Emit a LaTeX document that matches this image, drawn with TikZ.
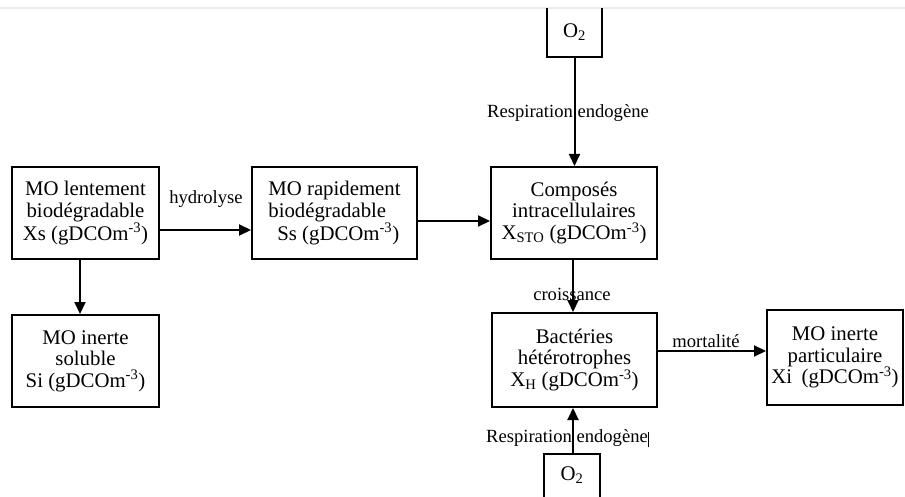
\documentclass[tikz,border=0pt]{standalone}
\usepackage{fontspec}
\setmainfont{Liberation Serif}
\usetikzlibrary{arrows.meta}
\definecolor{edgegray}{HTML}{EBEBEB}
\newcommand{\unitdco}{(gDCOm\textsuperscript{-3})}
\begin{document}
\begin{tikzpicture}[x=1pt,y=-1pt,
  box/.style={draw, line width=2pt, inner sep=0pt, align=center,
    font=\fontsize{20.8}{21.6}\selectfont},
  opbox/.style={inner sep=0pt, font=\fontsize{20.8}{21.6}\selectfont},
  lbl/.style={inner sep=0pt, font=\fontsize{18.6}{20}\selectfont},
  frame/.style={line width=2pt},
  flow/.style={line width=2pt, -{Triangle[length=12pt,width=11pt]}}]
\useasboundingbox (0,0) rectangle (905,497);
\fill[white] (0,0) rectangle (905,497);

% page edge at the top
\draw[edgegray, line width=1.5pt] (0,8) -- (905,8);

% boxes
\node[box, minimum width=147pt, minimum height=92pt] (xs) at (85.5,213)
  {MO lentement\\biodégradable\\Xs \unitdco};
\node[box, minimum width=165pt, minimum height=92pt, align=left] (ss) at (334.5,213)
  {MO rapidement\\biodégradable\\\hspace*{9pt}Ss \unitdco};
\node[box, minimum width=166pt, minimum height=92pt] (xsto) at (574,213)
  {Composés\\intracellulaires\\X\textsubscript{STO} \unitdco};
\node[box, minimum width=147pt, minimum height=92pt] (si) at (85.5,361)
  {MO inerte\\soluble\\Si \unitdco};
\node[box, minimum width=165pt, minimum height=94pt] (xh) at (574.5,360)
  {Bactéries\\hétérotrophes\\X\textsubscript{H} \unitdco};
\node[box, minimum width=136pt, minimum height=95pt] (xi) at (835,357.5)
  {MO inerte\\particulaire\\Xi\hspace{0.45em}\unitdco};

% oxygen supplies (open on the page edge)
\node[opbox, minimum width=55pt, minimum height=49pt] (o2t) at (574.5,32.5)
  {O\textsubscript{2}};
\draw[frame] (o2t.north west) -- (o2t.south west) -- (o2t.south east) -- (o2t.north east);
\node[opbox, minimum width=56pt, minimum height=43pt] (o2b) at (572,475.5)
  {O\textsubscript{2}};
\draw[frame] (o2b.south west) -- (o2b.north west) -- (o2b.north east) -- (o2b.south east);

% flows
\draw[flow] (xs.east |- 0,230) -- (ss.west |- 0,230);
\node[lbl] (hyd) at (206,199) {hydrolyse};
\draw[flow] (ss.east |- 0,221) -- (xsto.west |- 0,221);
\draw[flow] (xs.south -| 80,0) -- (si.north -| 80,0);
\draw[flow] (o2t.south) -- (o2t.south |- xsto.north);
\node[lbl] (resp1) at (568,113) {Respiration endogène};
\draw[flow] (xsto.south -| 573,0) -- (xh.north -| 573,0);
\node[lbl] (crois) at (572,294) {croissance};
\draw[flow] (xh.east |- 0,351) -- (xi.west |- 0,351);
\node[lbl] (mort) at (706,341) {mortalité};
\draw[flow] (o2b.north -| 573,0) -- (xh.south -| 573,0);
\node[lbl] (resp2) at (567,438) {Respiration endogène};
\coordinate (cur) at (648,432);
\draw[line width=0.8pt] (cur) -- ++(0,15);
\end{tikzpicture}
\end{document}
